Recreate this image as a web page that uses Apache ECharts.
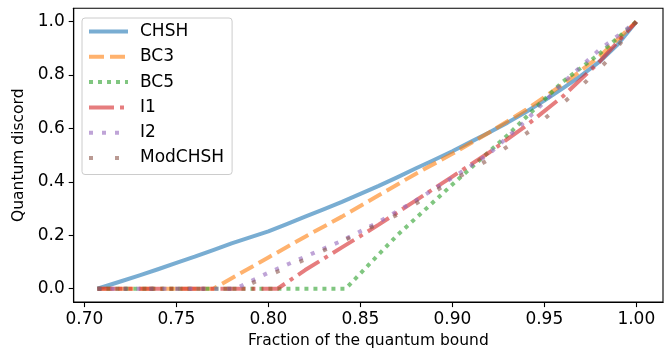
<!DOCTYPE html>
<html>
<head>
<meta charset="utf-8">
<script src="https://cdn.jsdelivr.net/npm/echarts@6/dist/echarts.min.js"></script>
<style>
html,body{margin:0;padding:0;background:#fff;}
#chart{width:670px;height:354px;}
</style>
</head>
<body>
<div id="chart"></div>
<script>
// ---- data ----
const seriesNames = ['CHSH', 'BC3', 'BC5', 'I1', 'I2', 'ModCHSH'];

const xCHSH = [0.7071, 0.72, 0.73, 0.74, 0.75, 0.76, 0.77, 0.78, 0.79, 0.80, 0.81, 0.82, 0.83, 0.84, 0.85,
               0.86, 0.87, 0.88, 0.89, 0.90, 0.91, 0.92, 0.93, 0.94, 0.95, 0.96, 0.97, 0.98, 0.99, 1.0];
const yCHSH = [0, 0.028, 0.05, 0.073, 0.097, 0.12, 0.145, 0.17, 0.192, 0.215, 0.242, 0.27, 0.297, 0.325, 0.355,
               0.385, 0.417, 0.45, 0.482, 0.515, 0.55, 0.585, 0.622, 0.662, 0.705, 0.75, 0.798, 0.85, 0.915, 1.0];

const xBC3 = [0.7071, 0.77, 0.80, 0.82, 0.84, 0.86, 0.88, 0.90, 0.92, 0.94, 0.96, 0.98, 1.0];
const yBC3 = [0, 0, 0.117, 0.195, 0.27, 0.35, 0.43, 0.505, 0.585, 0.67, 0.765, 0.87, 1.0];

const xBC5 = [0.7071, 0.842, 0.87, 0.90, 0.93, 0.96, 0.98, 1.0];
const yBC5 = [0, 0, 0.2, 0.39, 0.575, 0.775, 0.88, 1.0];

const xI1 = [0.7071, 0.805, 0.82, 0.84, 0.86, 0.88, 0.90, 0.92, 0.94, 0.96, 0.98, 1.0];
const yI1 = [0, 0, 0.07, 0.155, 0.24, 0.33, 0.42, 0.51, 0.61, 0.72, 0.85, 1.0];

const xI2 = [0.7071, 0.782, 0.80, 0.82, 0.84, 0.86, 0.88, 0.90, 0.92, 0.94, 0.96, 0.98, 1.0];
const yI2 = [0, 0, 0.06, 0.12, 0.18, 0.25, 0.33, 0.415, 0.505, 0.63, 0.77, 0.895, 1.0];

const xMod = [0.7071, 0.785, 0.795, 0.82, 0.846, 0.872, 0.896, 0.92, 0.943, 0.964, 0.984, 1.0];
const yMod = [0, 0, 0.034, 0.11, 0.197, 0.283, 0.388, 0.485, 0.595, 0.718, 0.852, 1.0];

const xTicks = [0.70, 0.75, 0.80, 0.85, 0.90, 0.95, 1.00];
const yTicks = [0.0, 0.2, 0.4, 0.6, 0.8, 1.0];

// ---- styles ----
const colors = ['#1f77b4', '#ff7f0e', '#2ca02c', '#d62728', '#9467bd', '#8c564b'];
const dashes = ['solid', [15, 6], [4, 5], [25, 6, 4, 6], [4, 9], [4, 22]];
const xs = [xCHSH, xBC3, xBC5, xI1, xI2, xMod];
const ys = [yCHSH, yBC3, yBC5, yI1, yI2, yMod];

const FONT = 'DejaVu Sans';

const series = seriesNames.map((name, i) => ({
  name: name,
  type: 'line',
  data: xs[i].map((x, j) => [x, ys[i][j]]),
  showSymbol: false,
  symbol: 'none',
  smooth: false,
  animation: false,
  lineStyle: {
    color: colors[i],
    width: 4,
    opacity: 0.6,
    type: dashes[i],
    cap: 'butt',
    join: 'round'
  },
  itemStyle: { color: colors[i], opacity: 0.6 }
}));

const chart = echarts.init(document.getElementById('chart'), null, { renderer: 'canvas' });
chart.setOption({
  animation: false,
  backgroundColor: '#ffffff',
  grid: {
    left: 73.7, right: 7, top: 8.3, bottom: 48.3,
    show: true, borderColor: '#000', borderWidth: 1.1, backgroundColor: 'transparent'
  },
  legend: {
    data: seriesNames,
    orient: 'vertical',
    left: 82, top: 18,
    padding: [5, 8, 8, 5],
    itemWidth: 39, itemHeight: 14, itemGap: 8.3,
    backgroundColor: 'rgba(255,255,255,0.8)',
    borderColor: '#cccccc', borderWidth: 1, borderRadius: 3,
    itemStyle: { opacity: 0 },
    lineStyle: { width: 4 },
    textStyle: { fontFamily: FONT, fontSize: 17, color: '#000', padding: [0, 0, 0, 7] },
    selectedMode: false
  },
  xAxis: {
    type: 'value',
    min: 0.6942, max: 1.0145,
    name: 'Fraction of the quantum bound',
    nameLocation: 'middle', nameGap: 28,
    nameTextStyle: { fontFamily: FONT, fontSize: 15.5, color: '#000' },
    axisLine: { show: true, onZero: false, lineStyle: { color: '#000', width: 1.1 } },
    axisTick: { show: true, length: 5, lineStyle: { color: '#000', width: 1.1 }, customValues: xTicks },
    axisLabel: {
      fontFamily: FONT, fontSize: 17, color: '#000', margin: 9,
      customValues: xTicks, formatter: v => v.toFixed(2)
    },
    splitLine: { show: false }
  },
  yAxis: {
    type: 'value',
    min: -0.05, max: 1.05,
    name: 'Quantum discord',
    nameLocation: 'middle', nameGap: 47, nameRotate: 90,
    nameTextStyle: { fontFamily: FONT, fontSize: 15.5, color: '#000' },
    axisLine: { show: true, onZero: false, lineStyle: { color: '#000', width: 1.1 } },
    axisTick: { show: true, length: 5, lineStyle: { color: '#000', width: 1.1 }, customValues: yTicks },
    axisLabel: {
      fontFamily: FONT, fontSize: 17, color: '#000', margin: 9,
      customValues: yTicks, formatter: v => v.toFixed(1)
    },
    splitLine: { show: false }
  },
  series: series
});
</script>
</body>
</html>
